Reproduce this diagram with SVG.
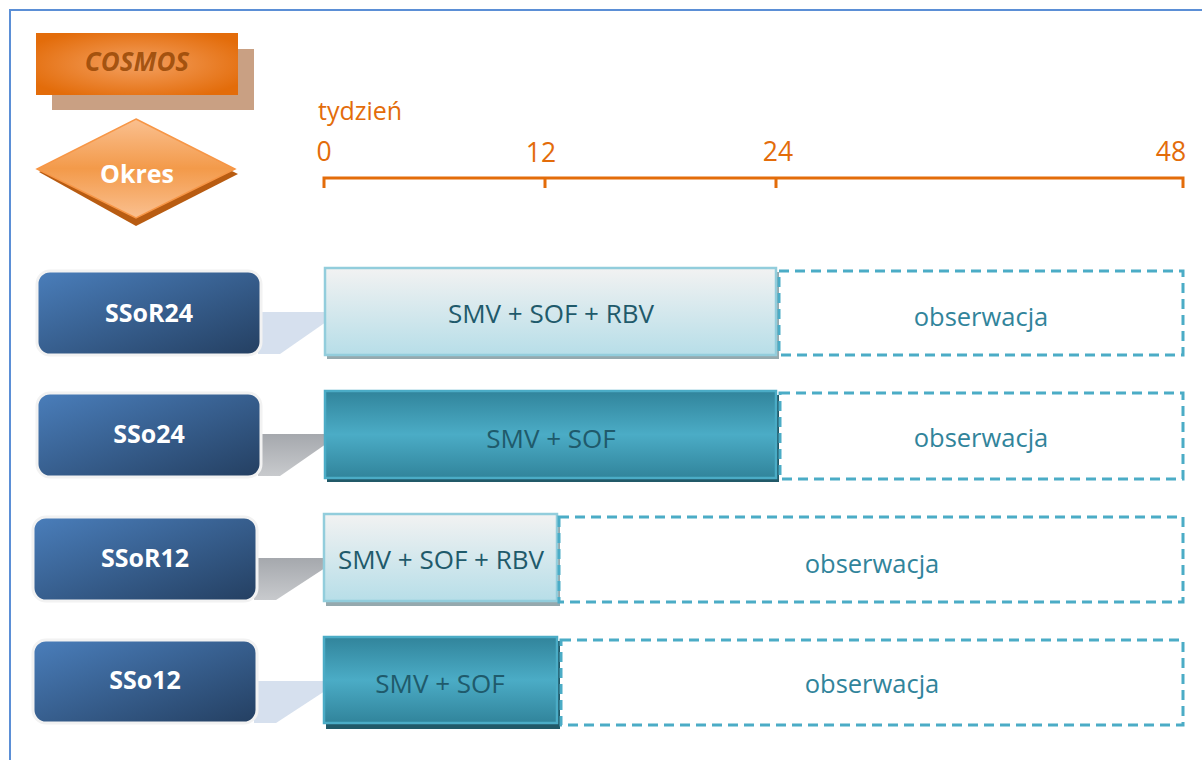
<svg xmlns="http://www.w3.org/2000/svg" width="1202" height="760" viewBox="0 0 1202 760">
<defs>
<linearGradient id="gBlue" x1="0" y1="0" x2="1" y2="1">
<stop offset="0" stop-color="#4A7EBB"/><stop offset="1" stop-color="#243F61"/>
</linearGradient>
<linearGradient id="gLight" x1="0" y1="0" x2="0" y2="1">
<stop offset="0" stop-color="#F2F2F2"/><stop offset="1" stop-color="#B7DEE8"/>
</linearGradient>
<linearGradient id="gDark" x1="0" y1="0" x2="0" y2="1">
<stop offset="0" stop-color="#31849B"/><stop offset="0.5" stop-color="#4BACC6"/><stop offset="1" stop-color="#31849B"/>
</linearGradient>
<radialGradient id="gOrange" cx="0.5" cy="0.5" r="0.6">
<stop offset="0" stop-color="#F4A060"/><stop offset="1" stop-color="#E36C0A"/>
</radialGradient>
<linearGradient id="gDiamond" x1="0" y1="0" x2="0" y2="1">
<stop offset="0" stop-color="#FAC090"/><stop offset="0.5" stop-color="#F39A4A"/><stop offset="1" stop-color="#FAC090"/>
</linearGradient>
<linearGradient id="gGray" x1="0" y1="0" x2="0" y2="1">
<stop offset="0" stop-color="#A5A8AD"/><stop offset="1" stop-color="#C8CACD"/>
</linearGradient>
</defs>
<style>
.lbl{font-family:"Open Sans","Liberation Sans",sans-serif;font-weight:bold;font-size:25px;fill:#FFFFFF;text-anchor:middle}
.bar{font-family:"Open Sans","Liberation Sans",sans-serif;font-size:26px;fill:#1F5A6B;text-anchor:middle}
.obs{font-family:"Open Sans","Liberation Sans",sans-serif;font-size:25.5px;fill:#31849B;text-anchor:middle}
.ax{font-family:"Open Sans","Liberation Sans",sans-serif;font-size:25px;fill:#E36C0A}
.num{font-family:"Open Sans","Liberation Sans",sans-serif;font-size:26.5px;fill:#E36C0A;text-anchor:middle}
.lblbox{fill:url(#gBlue);stroke:#F2F2F2;stroke-width:3}
.lightbar{fill:url(#gLight);stroke:#92CDDC;stroke-width:2.5}
.darkbar{fill:url(#gDark);stroke:#4BACC6;stroke-width:2.5}
.dash{fill:none;stroke:#4BACC6;stroke-width:3;stroke-dasharray:10 6}
.tick{stroke:#E36C0A;stroke-width:3;fill:none}
</style>
<rect x="0" y="0" width="1202" height="760" fill="#FFFFFF"/>
<path d="M10 760 V10 H1202" fill="none" stroke="#5B8FD6" stroke-width="2"/>

<g id="cosmos">
<rect x="52" y="49" width="202" height="61" fill="#C9A083"/>
<rect x="36" y="33" width="202" height="62" fill="url(#gOrange)"/>
<text x="137" y="71" font-family="'Open Sans','Liberation Sans',sans-serif" font-size="26" font-weight="bold" font-style="italic" fill="#974806" fill-opacity="0.85" text-anchor="middle">COSMOS</text>
</g>

<g id="okres">
<polygon points="136,124 238,174 136,226 39,172" fill="#B85C12"/>
<polygon points="136,119 235,169 136,218 37,169" fill="url(#gDiamond)" stroke="#F79646" stroke-width="1.5"/>
<text x="137" y="183" class="lbl">Okres</text>
</g>

<g id="axis">
<text x="318" y="120" class="ax">tydzień</text>
<text x="324" y="161" class="num">0</text>
<text x="541" y="162" class="num">12</text>
<text x="778" y="161" class="num">24</text>
<text x="1171" y="161" class="num">48</text>
<path class="tick" d="M324 188 V178 H1183 V188 M545 178 V188 M776 178 V188"/>
</g>

<g id="connectors">
<polygon points="258,312 326,312 326,322 280,354 258,354" fill="#D6E0EE"/>
<polygon points="258,434 326,434 326,444 280,476 258,476" fill="url(#gGray)"/>
<polygon points="254,558 325,558 325,568 276,600 254,600" fill="url(#gGray)"/>
<polygon points="254,681 325,681 325,691 276,723 254,723" fill="#D6E0EE"/>
</g>

<g id="SSoR24">
<rect x="37" y="271" width="224" height="84" rx="13" class="lblbox"/>
<text x="149" y="322" class="lbl">SSoR24</text>
</g>
<g id="bar1">
<rect x="327" y="272" width="452" height="87" fill="#95A9AE"/>
<rect x="325" y="268" width="451" height="87" class="lightbar"/>
<text x="551" y="323" class="bar">SMV + SOF + RBV</text>
</g>
<g id="obs1">
<rect x="779" y="271" width="404" height="84" class="dash"/>
<text x="981" y="326" class="obs">obserwacja</text>
</g>

<g id="SSo24">
<rect x="37" y="393" width="224" height="84" rx="13" class="lblbox"/>
<text x="149" y="443" class="lbl">SSo24</text>
</g>
<g id="bar2">
<rect x="327" y="395" width="452" height="87" fill="#215968"/>
<rect x="325" y="391" width="451" height="87" class="darkbar"/>
<text x="551" y="448" class="bar">SMV + SOF</text>
</g>
<g id="obs2">
<rect x="780" y="393" width="403" height="86" class="dash"/>
<text x="981" y="447" class="obs">obserwacja</text>
</g>

<g id="SSoR12">
<rect x="33" y="517" width="224" height="84" rx="13" class="lblbox"/>
<text x="145" y="567" class="lbl">SSoR12</text>
</g>
<g id="bar3">
<rect x="326" y="518" width="234" height="88" fill="#95A9AE"/>
<rect x="324" y="514" width="233" height="87" class="lightbar"/>
<text x="441" y="569" class="bar">SMV + SOF + RBV</text>
</g>
<g id="obs3">
<rect x="559" y="517" width="624" height="85" class="dash"/>
<text x="872" y="573" class="obs">obserwacja</text>
</g>

<g id="SSo12">
<rect x="33" y="640" width="224" height="83" rx="13" class="lblbox"/>
<text x="145" y="689" class="lbl">SSo12</text>
</g>
<g id="bar4">
<rect x="326" y="641" width="234" height="88" fill="#215968"/>
<rect x="324" y="637" width="233" height="86" class="darkbar"/>
<text x="440" y="693" class="bar">SMV + SOF</text>
</g>
<g id="obs4">
<rect x="561" y="640" width="622" height="85" class="dash"/>
<text x="872" y="693" class="obs">obserwacja</text>
</g>
</svg>
